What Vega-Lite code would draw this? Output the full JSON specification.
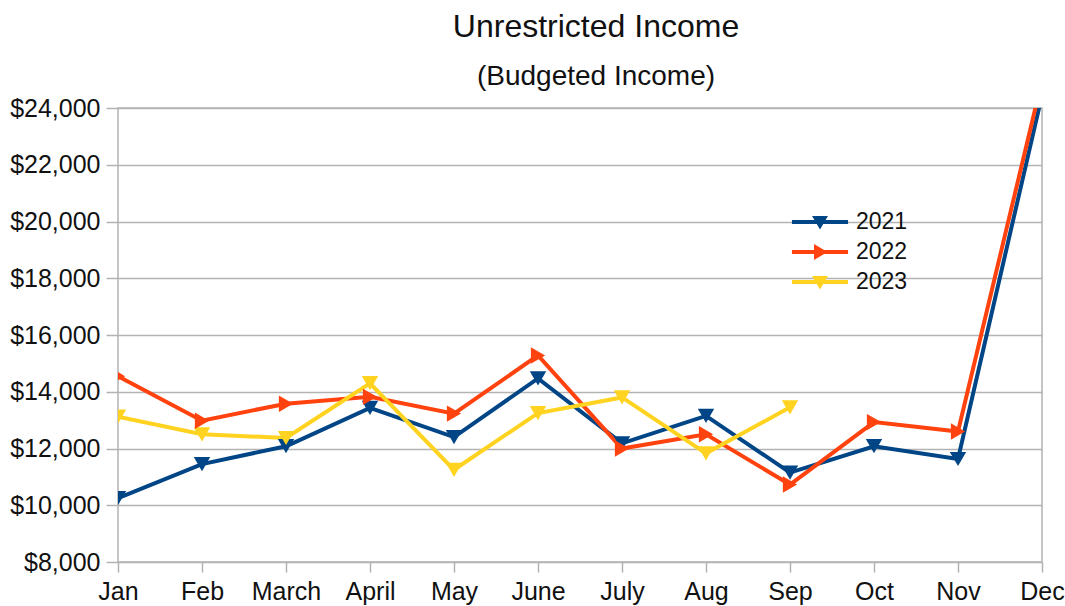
{
  "$schema": "https://vega.github.io/schema/vega-lite/v6.json",
  "autosize": "none",
  "width": 924,
  "height": 454,
  "padding": {"left": 118, "top": 108, "right": 23, "bottom": 44},
  "background": "white",
  "config": {
    "font": "Liberation Sans",
    "view": {"stroke": "#b3b3b3", "strokeWidth": 1.5},
    "axis": {"labelFont": "Liberation Sans", "labelColor": "#111", "labelFontSize": 25, "domain": false, "tickColor": "#b3b3b3", "tickWidth": 1.5, "gridColor": "#b3b3b3", "gridWidth": 1.5, "title": null}
  },
  "title": {
    "text": "Unrestricted Income",
    "subtitle": "(Budgeted Income)",
    "anchor": "middle",
    "dx": 16,
    "offset": 4,
    "font": "Liberation Sans",
    "fontSize": 32,
    "fontWeight": "normal",
    "color": "#111",
    "subtitleFont": "Liberation Sans",
    "subtitleFontSize": 28,
    "subtitleColor": "#111",
    "subtitlePadding": 19
  },
  "data": {
    "values": [
      {"month": "Jan", "year": "2021", "value": 10250},
      {"month": "Feb", "year": "2021", "value": 11450},
      {"month": "March", "year": "2021", "value": 12080},
      {"month": "April", "year": "2021", "value": 13430},
      {"month": "May", "year": "2021", "value": 12400},
      {"month": "June", "year": "2021", "value": 14470},
      {"month": "July", "year": "2021", "value": 12180},
      {"month": "Aug", "year": "2021", "value": 13150},
      {"month": "Sep", "year": "2021", "value": 11150},
      {"month": "Oct", "year": "2021", "value": 12080},
      {"month": "Nov", "year": "2021", "value": 11630},
      {"month": "Dec", "year": "2021", "value": 24450},
      {"month": "Jan", "year": "2022", "value": 14550},
      {"month": "Feb", "year": "2022", "value": 12980},
      {"month": "March", "year": "2022", "value": 13580},
      {"month": "April", "year": "2022", "value": 13820},
      {"month": "May", "year": "2022", "value": 13230},
      {"month": "June", "year": "2022", "value": 15280},
      {"month": "July", "year": "2022", "value": 12000},
      {"month": "Aug", "year": "2022", "value": 12500},
      {"month": "Sep", "year": "2022", "value": 10730},
      {"month": "Oct", "year": "2022", "value": 12930},
      {"month": "Nov", "year": "2022", "value": 12600},
      {"month": "Dec", "year": "2022", "value": 24970},
      {"month": "Jan", "year": "2023", "value": 13120},
      {"month": "Feb", "year": "2023", "value": 12500},
      {"month": "March", "year": "2023", "value": 12370},
      {"month": "April", "year": "2023", "value": 14300},
      {"month": "May", "year": "2023", "value": 11250},
      {"month": "June", "year": "2023", "value": 13250},
      {"month": "July", "year": "2023", "value": 13800},
      {"month": "Aug", "year": "2023", "value": 11830},
      {"month": "Sep", "year": "2023", "value": 13450}
    ]
  },
  "encoding": {
    "x": {
      "field": "month",
      "type": "ordinal",
      "sort": ["Jan", "Feb", "March", "April", "May", "June", "July", "Aug", "Sep", "Oct", "Nov", "Dec"],
      "scale": {"type": "point", "padding": 0},
      "axis": {"labelAngle": 0, "grid": false, "tickSize": 10, "labelPadding": 7}
    },
    "y": {
      "field": "value",
      "type": "quantitative",
      "scale": {"domain": [8000, 24000], "nice": false, "zero": false},
      "axis": {"values": [8000, 10000, 12000, 14000, 16000, 18000, 20000, 22000, 24000], "format": "$,.0f", "tickSize": 12, "labelPadding": 6}
    },
    "color": {
      "field": "year",
      "type": "nominal",
      "scale": {"domain": ["2021", "2022", "2023"], "range": ["#004586", "#ff420e", "#ffd320"]},
      "legend": {
        "title": null,
        "orient": "none",
        "legendX": 687,
        "legendY": 99,
        "padding": 0,
        "symbolSize": 900,
        "symbolStrokeWidth": 0,
        "symbolOpacity": 1,
        "labelOffset": 21,
        "labelFont": "Liberation Sans",
        "labelFontSize": 23,
        "labelColor": "#111",
        "rowPadding": 3,
        "encode": {
          "symbols": {
            "update": {
              "shape": {"signal": "datum.value == '2022' ? 'M-1.87,-0.13H1.87V0.13H-1.87Z M-0.4,-0.53L0.5,0L-0.4,0.53Z' : 'M-1.87,-0.13H1.87V0.13H-1.87Z M-0.53,-0.4L0.53,-0.4L0,0.5Z'"},
              "fill": {"scale": "color", "field": "value"},
              "fillOpacity": {"value": 1},
              "strokeWidth": {"value": 0},
              "opacity": {"value": 1}
            }
          }
        }
      }
    }
  },
  "layer": [
    {
      "mark": {"type": "line", "strokeWidth": 4, "clip": true}
    },
    {
      "transform": [{"filter": "datum.year != '2022'"}],
      "mark": {"type": "point", "shape": "triangle-down", "filled": true, "opacity": 1, "size": 270, "clip": true}
    },
    {
      "transform": [{"filter": "datum.year == '2022'"}],
      "mark": {"type": "point", "shape": "triangle-right", "filled": true, "opacity": 1, "size": 270, "clip": true}
    }
  ]
}
